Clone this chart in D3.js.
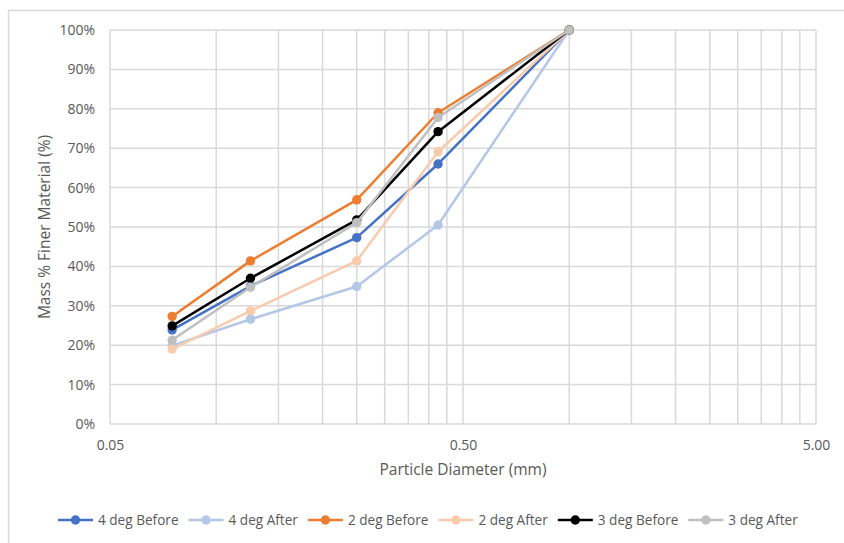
<!DOCTYPE html>
<html>
<head>
<meta charset="utf-8">
<script src="https://cdn.jsdelivr.net/npm/d3@7"></script>
<style>
  body { margin: 0; background: #fff; }
  text { font-family: "Open Sans", "Noto Sans", sans-serif; fill: #595959; }
</style>
</head>
<body>
<div id="chart"></div>
<script>
// sieve sizes (mm)
const sizes = [0.075, 0.125, 0.25, 0.425, 1.0];

// % finer for each run
const deg4Before = [23.9, 35.0, 47.3, 66.0, 100];
const deg4After  = [19.9, 26.6, 34.9, 50.5, 100];
const deg2Before = [27.3, 41.4, 56.9, 79.0, 100];
const deg2After  = [19.0, 28.7, 41.4, 69.1, 100];
const deg3Before = [24.9, 37.0, 51.8, 74.2, 100];
const deg3After  = [21.3, 34.7, 51.1, 77.8, 100];

const seriesNames = ["4 deg Before", "4 deg After", "2 deg Before", "2 deg After", "3 deg Before", "3 deg After"];
const seriesColors = ["#4472C4", "#B4C7E7", "#ED7D31", "#F8CBAD", "#000000", "#BFBFBF"];
const seriesValues = [deg4Before, deg4After, deg2Before, deg2After, deg3Before, deg3After];

const xTickLabels = [0.05, 0.5, 5];
const yTicks = d3.range(0, 101, 10);

var W = 844, H = 543;
var margin = {top: 30, right: 28, bottom: 119, left: 110};
var width = W - margin.left - margin.right;
var height = H - margin.top - margin.bottom;

var svg = d3.select("#chart").append("svg")
  .attr("width", W)
  .attr("height", H);

// chart border (only left & top show)
svg.append("rect")
  .attr("x", 8.5).attr("y", 10.5)
  .attr("width", W + 20).attr("height", H + 20)
  .attr("fill", "none")
  .attr("stroke", "#d9d9d9")
  .attr("stroke-width", 1.5);

var g = svg.append("g")
  .attr("transform", "translate(" + margin.left + "," + margin.top + ")");

var x = d3.scaleLog().domain([0.05, 5]).range([0, width]);
var y = d3.scaleLinear().domain([0, 100]).range([height, 0]);

// vertical gridlines: 0.05*k*10^n
var xGrid = [];
[0.05, 0.5].forEach(function(b) {
  for (var k = 1; k <= 9; k++) xGrid.push(b * k);
});
xGrid.push(5);

g.selectAll(".xgrid")
  .data(xGrid)
  .enter().append("line")
  .attr("x1", d => x(d)).attr("x2", d => x(d))
  .attr("y1", 0).attr("y2", height)
  .attr("stroke", "#d9d9d9")
  .attr("stroke-width", 1.5);

g.selectAll(".ygrid")
  .data(yTicks)
  .enter().append("line")
  .attr("x1", 0).attr("x2", width)
  .attr("y1", d => y(d)).attr("y2", d => y(d))
  .attr("stroke", "#d9d9d9")
  .attr("stroke-width", 1.5);

// y axis labels
var yAxis = d3.axisLeft(y).tickValues(yTicks).tickSize(0).tickPadding(15)
  .tickFormat(d => d + "%");
g.append("g").call(yAxis)
  .call(s => s.select(".domain").remove())
  .selectAll("text")
  .style("font-size", "14px")
  .attr("fill", "#595959");

// x axis labels
var xAxis = d3.axisBottom(x).tickValues(xTickLabels).tickSize(0).tickPadding(16)
  .tickFormat(d3.format(".2f"));
g.append("g").attr("transform", "translate(0," + height + ")").call(xAxis)
  .call(s => s.select(".domain").remove())
  .selectAll("text")
  .style("font-size", "14px")
  .attr("fill", "#595959");

// axis titles
svg.append("text")
  .attr("x", margin.left + width / 2)
  .attr("y", 470)
  .attr("dy", "0.35em")
  .attr("text-anchor", "middle")
  .style("font-size", "15.5px")
  .text("Particle Diameter (mm)");

svg.append("text")
  .attr("transform", "translate(45," + (margin.top + height / 2) + ") rotate(-90)")
  .attr("dy", "0.35em")
  .attr("text-anchor", "middle")
  .style("font-size", "15.5px")
  .text("Mass % Finer Material (%)");

// lines + markers
var line = d3.line()
  .x((d, i) => x(sizes[i]))
  .y(d => y(d));

seriesValues.forEach(function(vals, si) {
  var sg = g.append("g");
  sg.append("path")
    .datum(vals)
    .attr("d", line)
    .attr("fill", "none")
    .attr("stroke", seriesColors[si])
    .attr("stroke-width", 2.5)
    .attr("stroke-linejoin", "round");
  sg.selectAll(".dot")
    .data(vals)
    .enter().append("circle")
    .attr("cx", (d, i) => x(sizes[i]))
    .attr("cy", d => y(d))
    .attr("r", 4.7)
    .attr("fill", seriesColors[si]);
});

// legend
var legend = svg.append("g").attr("transform", "translate(0,520)");
var lx = 58;
seriesNames.forEach(function(name, i) {
  var e = legend.append("g").attr("transform", "translate(" + lx + ",0)");
  e.append("line")
    .attr("x1", 0).attr("x2", 35)
    .attr("stroke", seriesColors[i]).attr("stroke-width", 2.5);
  e.append("circle")
    .attr("cx", 17.5).attr("r", 4.7)
    .attr("fill", seriesColors[i]);
  var t = e.append("text")
    .attr("x", 40).attr("dy", "0.35em")
    .style("font-size", "13.6px")
    .text(name);
  lx += 40 + t.node().getComputedTextLength() + 10;
});
</script>
</body>
</html>
